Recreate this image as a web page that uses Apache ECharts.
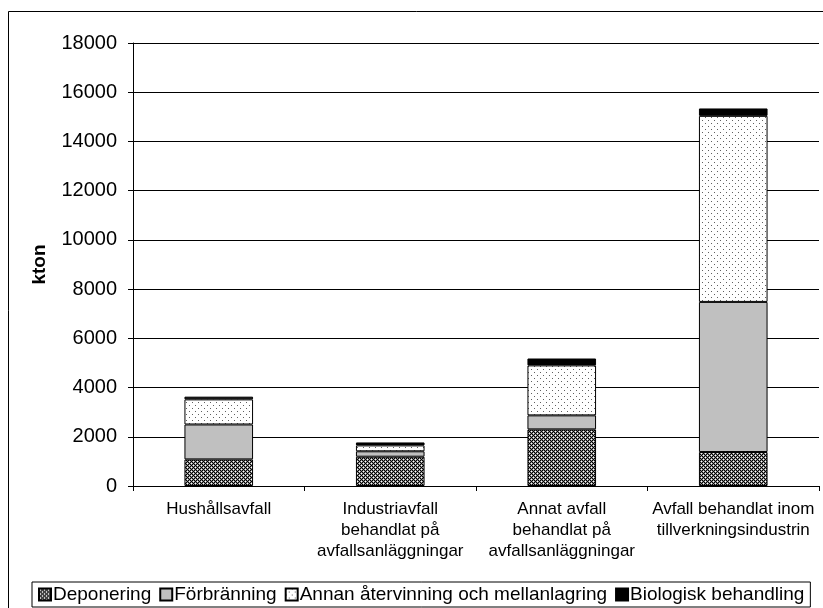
<!DOCTYPE html>
<html>
<head>
<meta charset="utf-8">
<script src="https://cdn.jsdelivr.net/npm/echarts@6/dist/echarts.min.js"></script>
<style>
  html, body { margin: 0; padding: 0; background: #fff; }
  #chart { width: 823px; height: 608px; }
</style>
</head>
<body>
<div id="chart"></div>
<script>
// Waste treatment by stream, kton
const categories = [
  'Hushållsavfall',
  'Industriavfall\nbehandlat på\navfallsanläggningar',
  'Annat avfall\nbehandlat på\navfallsanläggningar',
  'Avfall behandlat inom\ntillverkningsindustrin'
];
const deponering = [1080, 1190, 2300, 1380];
const forbranning = [1420, 220, 570, 6100];
const annanAtervinning = [1020, 240, 2030, 7560];
const biologisk = [110, 120, 280, 300];
const seriesNames = ['Deponering', 'Förbränning', 'Annan återvinning och mellanlagring', 'Biologisk behandling'];
const yTicks = { min: 0, max: 18000, interval: 2000 };

const FONT = '"Liberation Sans", Arial, sans-serif';

// Small repeating tiles used as fill patterns
function makeTile(w, h, paint) {
  const c = document.createElement('canvas');
  c.width = w; c.height = h;
  const ctx = c.getContext('2d');
  paint(ctx);
  return c;
}
const hatchTile = makeTile(4, 4, ctx => {
  const K = '#000', G = '#8a8a8a', W = '#ffffff';
  const grid = [
    [K, G, K, G],
    [G, W, G, K],
    [K, G, K, G],
    [G, K, G, W]
  ];
  for (let y = 0; y < 4; y++) for (let x = 0; x < 4; x++) {
    ctx.fillStyle = grid[y][x];
    ctx.fillRect(x, y, 1, 1);
  }
});
const dotTile = makeTile(6, 6, ctx => {
  ctx.fillStyle = '#fff';
  ctx.fillRect(0, 0, 6, 6);
  ctx.fillStyle = '#606060';
  ctx.fillRect(0, 0, 1, 1);
  ctx.fillRect(3, 3, 1, 1);
});

const fills = [
  { image: hatchTile, repeat: 'repeat' },
  '#c0c0c0',
  { image: dotTile, repeat: 'repeat' },
  '#000000'
];
const values = [deponering, forbranning, annanAtervinning, biologisk];

const chart = echarts.init(document.getElementById('chart'), null, { renderer: 'canvas' });

chart.setOption({
  animation: false,
  backgroundColor: '#fff',
  textStyle: { fontFamily: FONT },
  graphic: [{
    type: 'rect',
    shape: { x: 8.5, y: 11.5, width: 900, height: 900 },
    style: { fill: 'none', stroke: '#000', lineWidth: 1 },
    z: -10, silent: true
  }],
  grid: { left: 133, right: 4, top: 43, bottom: 122, containLabel: false },
  legend: {
    left: 32, top: 582,
    padding: [3, 6, 3, 6],
    borderColor: '#000', borderWidth: 1,
    itemGap: 8,
    itemWidth: 12, itemHeight: 12,
    icon: 'rect',
    textStyle: { fontFamily: FONT, fontSize: 19, color: '#000', padding: [0, 0, 0, -3] },
    data: seriesNames
  },
  xAxis: {
    type: 'category',
    data: categories,
    axisLine: { lineStyle: { color: '#000', width: 1 } },
    axisTick: { show: true, length: 5, lineStyle: { color: '#000' } },
    axisLabel: { color: '#000', fontSize: 17, lineHeight: 21, margin: 13, fontFamily: FONT, interval: 0 }
  },
  yAxis: {
    type: 'value',
    min: yTicks.min, max: yTicks.max, interval: yTicks.interval,
    name: 'kton',
    nameLocation: 'middle',
    nameRotate: 90,
    nameGap: 84,
    nameTextStyle: { fontWeight: 'bold', fontSize: 19, color: '#000', fontFamily: FONT },
    axisLine: { show: true, lineStyle: { color: '#000', width: 1 } },
    axisTick: { show: true, length: 5, lineStyle: { color: '#000' } },
    axisLabel: { color: '#000', fontSize: 20, margin: 16, fontFamily: FONT, formatter: v => String(v) },
    splitLine: { show: true, lineStyle: { color: '#000', width: 1 } }
  },
  series: seriesNames.map((name, i) => ({
    name,
    type: 'bar',
    stack: 'total',
    barWidth: '40%',
    data: values[i],
    itemStyle: { color: fills[i], borderColor: '#000', borderWidth: 1 }
  }))
});
</script>
</body>
</html>
